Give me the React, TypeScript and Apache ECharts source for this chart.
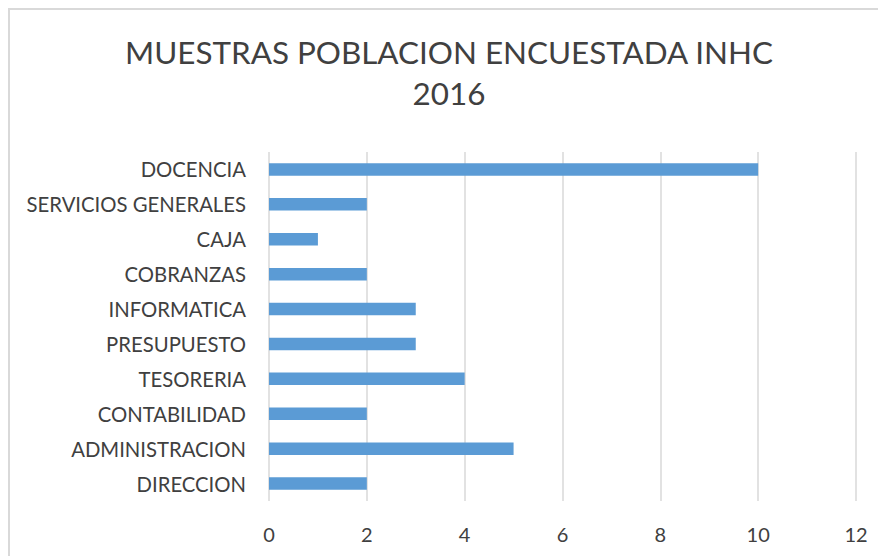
import React, { useEffect, useRef } from "react";
import * as echarts from "echarts";

const titleLines = ["MUESTRAS POBLACION ENCUESTADA INHC", "2016"];
const categories = [
  "DIRECCION",
  "ADMINISTRACION",
  "CONTABILIDAD",
  "TESORERIA",
  "PRESUPUESTO",
  "INFORMATICA",
  "COBRANZAS",
  "CAJA",
  "SERVICIOS GENERALES",
  "DOCENCIA",
];
const values = [2, 5, 2, 4, 3, 3, 2, 1, 2, 10];
const xMin = 0;
const xMax = 12;
const xStep = 2;

const FONT = "Lato";
const TEXT = "#404040";

export default function App() {
  const ref = useRef<HTMLDivElement>(null);
  useEffect(() => {
    if (!ref.current) return;
    const chart = echarts.init(ref.current, undefined, { renderer: "svg" });
    chart.setOption({
      animation: false,
      backgroundColor: "#ffffff",
      textStyle: { fontFamily: FONT },
      graphic: [
        {
          type: "rect",
          shape: { x: 1, y: 1, width: 2000, height: 2000 },
          style: { fill: "none", stroke: "#d9d9d9", lineWidth: 2 },
          silent: true,
        },
        {
          type: "text",
          x: 441,
          y: 44,
          silent: true,
          style: {
            text: titleLines[0],
            fontFamily: FONT,
            fontSize: 31.4,
            fill: TEXT,
            align: "center",
            verticalAlign: "middle",
          },
        },
        {
          type: "text",
          x: 441,
          y: 84.5,
          silent: true,
          style: {
            text: titleLines[1],
            fontFamily: FONT,
            fontSize: 31.4,
            fill: TEXT,
            align: "center",
            verticalAlign: "middle",
          },
        },
      ],
      grid: { left: 261, right: 30, top: 144, bottom: 55, containLabel: false },
      xAxis: {
        type: "value",
        min: xMin,
        max: xMax,
        interval: xStep,
        axisLine: { show: false },
        axisTick: { show: false },
        splitLine: { show: true, lineStyle: { color: "#d9d9d9", width: 1.5 } },
        axisLabel: { fontFamily: FONT, fontSize: 20, color: TEXT, margin: 23 },
      },
      yAxis: {
        type: "category",
        data: categories,
        axisLine: { show: false },
        axisTick: { show: false },
        splitLine: { show: false },
        axisLabel: { fontFamily: FONT, fontSize: 20.3, color: TEXT, margin: 23 },
      },
      series: [
        {
          type: "bar",
          data: values,
          barWidth: 12.5,
          itemStyle: { color: "#5B9BD5" },
        },
      ],
    });
    return () => chart.dispose();
  }, []);
  return <div ref={ref} style={{ width: 878, height: 548 }} />;
}
